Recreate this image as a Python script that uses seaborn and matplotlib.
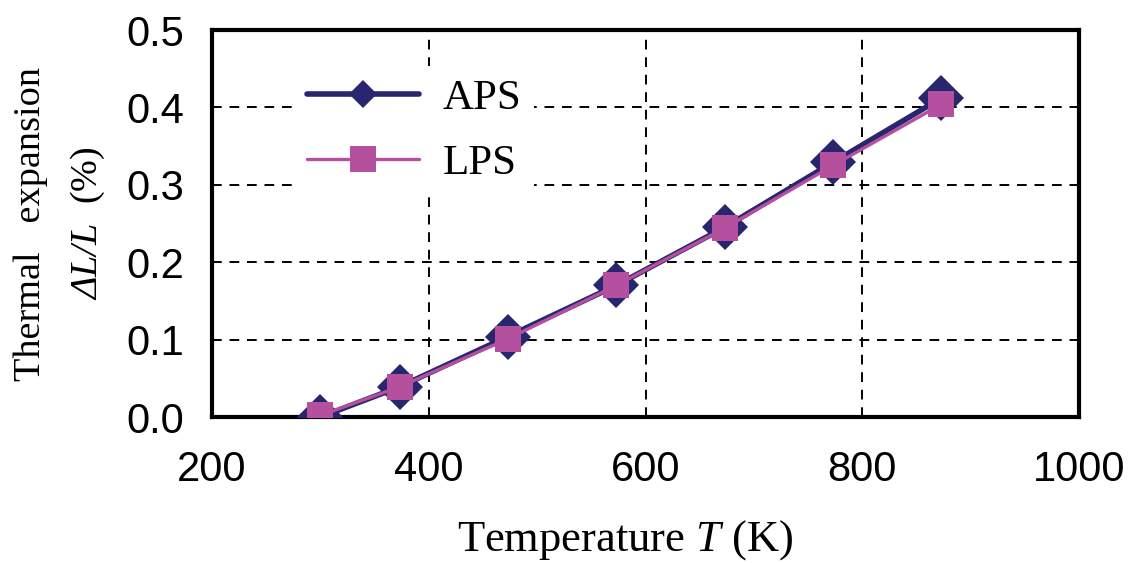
import matplotlib
matplotlib.use("Agg")
import matplotlib.pyplot as plt
from matplotlib.lines import Line2D
import numpy as np
import pandas as pd
import seaborn as sns

# Thermal expansion of APS and LPS coatings versus temperature
temperature_K = [300, 373, 473, 573, 673, 773, 873]
aps_expansion = [0.000, 0.039, 0.104, 0.170, 0.245, 0.329, 0.412]
lps_expansion = [0.002, 0.039, 0.101, 0.170, 0.244, 0.325, 0.404]
series_names = ["APS", "LPS"]
x_ticks = [200, 400, 600, 800, 1000]
y_ticks = [0.0, 0.1, 0.2, 0.3, 0.4, 0.5]

aps_color = "#27266f"
lps_color = "#b5509f"

df = pd.DataFrame({
    "T": temperature_K * 2,
    "dLL": aps_expansion + lps_expansion,
    "coating": [series_names[0]] * len(temperature_K) + [series_names[1]] * len(temperature_K),
})

sns.set_style("white")
plt.rcParams["font.family"] = ["Liberation Sans", "DejaVu Sans"]
plt.rcParams["mathtext.fontset"] = "custom"
plt.rcParams["mathtext.rm"] = "Liberation Serif"
plt.rcParams["mathtext.it"] = "Liberation Serif:italic"
# italic slot that also slants Greek capitals
plt.rcParams["mathtext.sf"] = "Liberation Serif:italic"
plt.rcParams["text.color"] = "black"
plt.rcParams["axes.labelcolor"] = "black"

fig = plt.figure(figsize=(11.29, 5.63), dpi=100)
ax = fig.add_axes([0.1878, 0.2593, 0.7679, 0.6874])

sns.lineplot(data=df[df.coating == "APS"], x="T", y="dLL", ax=ax,
             color=aps_color, linewidth=4.0, marker="D", markersize=23,
             markeredgewidth=0, zorder=3, legend=False)
sns.lineplot(data=df[df.coating == "LPS"], x="T", y="dLL", ax=ax,
             color=lps_color, linewidth=2.4, marker="s", markersize=18.5,
             markeredgewidth=0, zorder=4, legend=False)

ax.set_xlim(x_ticks[0], x_ticks[-1])
ax.set_ylim(y_ticks[0], y_ticks[-1])
ax.set_xticks(x_ticks)
ax.set_yticks(y_ticks)
ax.set_xticklabels([str(v) for v in x_ticks])
ax.set_yticklabels([f"{v:.1f}" for v in y_ticks])
ax.tick_params(axis="both", length=0, labelsize=30, colors="black")
ax.tick_params(axis="x", pad=24)
ax.tick_params(axis="y", pad=20)

# dashed interior grid only
for xv in x_ticks[1:-1]:
    ax.axvline(xv, color="black", linewidth=1.4, linestyle=(0, (5, 4)), zorder=1)
for yv in y_ticks[1:-1]:
    ax.axhline(yv, color="black", linewidth=1.4, linestyle=(0, (5, 4)), zorder=1)

for sp in ax.spines.values():
    sp.set_visible(True)
    sp.set_color("black")
    sp.set_linewidth(3.0)

ax.set_xlabel("Temperature $\\mathit{T}$ (K)", fontsize=32, color="black",
              family=["Liberation Serif", "DejaVu Serif"])
ax.xaxis.set_label_coords(0.476, -0.262)
ax.set_ylabel("Thermal   expansion\n$\\mathsf{ΔL/L}$  (%)", fontsize=27.5,
              color="black", family=["Liberation Serif", "DejaVu Serif"],
              labelpad=14, linespacing=1.75)

handles = [
    Line2D([], [], color=aps_color, linewidth=4.0, marker="D", markersize=14,
           markeredgewidth=0),
    Line2D([], [], color=lps_color, linewidth=2.4, marker="s", markersize=19,
           markeredgewidth=0),
]
leg = ax.legend(handles, series_names, loc="upper left",
                bbox_to_anchor=(0.07, 0.963), frameon=True, fancybox=False,
                facecolor="white", edgecolor="none", framealpha=1.0,
                prop={"family": "Liberation Serif", "size": 31},
                handlelength=2.6, handletextpad=0.55, labelspacing=0.61,
                borderpad=0.3)
for t in leg.get_texts():
    t.set_color("black")
leg.set_zorder(5)

fig.savefig("out.png", dpi=100, facecolor="white")
